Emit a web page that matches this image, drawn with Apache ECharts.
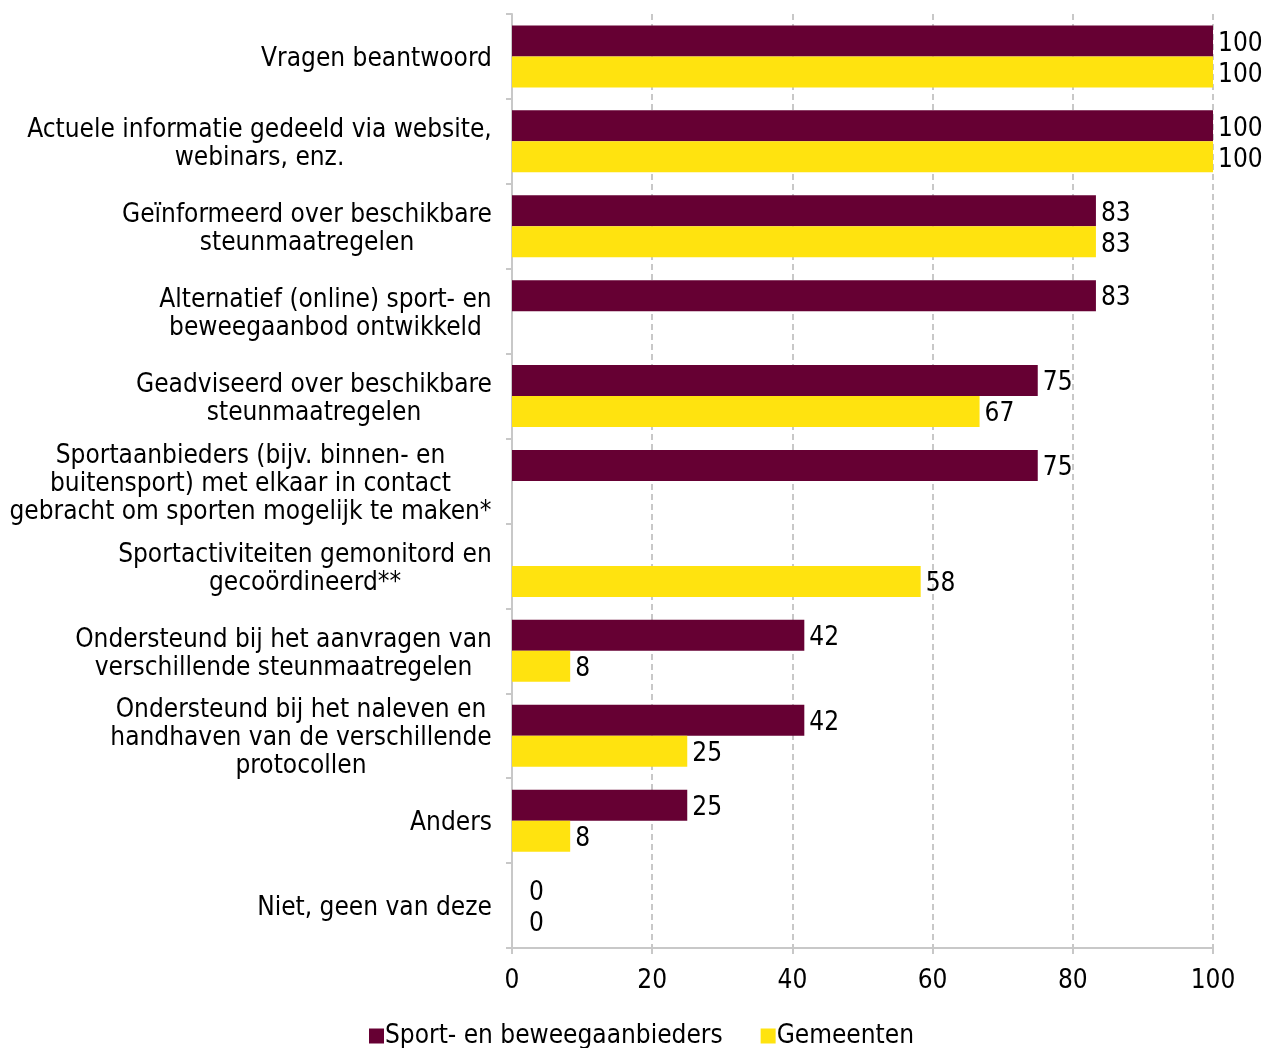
<!DOCTYPE html>
<html>
<head>
<meta charset="utf-8">
<script src="https://cdn.jsdelivr.net/npm/echarts@6/dist/echarts.min.js"></script>
<style>
  html, body { margin: 0; padding: 0; background: #fff; }
  #chart { width: 1266px; height: 1048px; }
</style>
</head>
<body>
<div id="chart"></div>
<script>
// categories, top to bottom
const categories = [
  'Vragen beantwoord',
  'Actuele informatie gedeeld via website,\nwebinars, enz.',
  'Geïnformeerd over beschikbare\nsteunmaatregelen',
  'Alternatief (online) sport- en\nbeweegaanbod ontwikkeld',
  'Geadviseerd over beschikbare\nsteunmaatregelen',
  'Sportaanbieders (bijv. binnen- en\nbuitensport) met elkaar in contact\ngebracht om sporten mogelijk te maken*',
  'Sportactiviteiten gemonitord en\ngecoördineerd**',
  'Ondersteund bij het aanvragen van\nverschillende steunmaatregelen',
  'Ondersteund bij het naleven en\nhandhaven van de verschillende\nprotocollen',
  'Anders',
  'Niet, geen van deze'
]
const sportValues = [100, 100, 83.3, 83.3, 75, 75, null, 41.7, 41.7, 25, 0]
const gemeentenValues = [100, 100, 83.3, null, 66.7, null, 58.3, 8.3, 25, 8.3, 0]
const seriesNames = ['Sport- en beweegaanbieders', 'Gemeenten']
const xTicks = [0, 20, 40, 60, 80, 100]

const FONT = 'DejaVu Sans Condensed'
const FS = 26
const colors = ['#660033', '#FFE30F']

// centre the lines of each wrapped label inside its own block
const ctx = document.createElement('canvas').getContext('2d')
ctx.font = FS + "px '" + FONT + "'"
const rich = {}
categories.forEach((c, i) => {
  const w = Math.max(...c.split('\n').map(l => ctx.measureText(l).width))
  rich['c' + i] = { width: Math.ceil(w), align: 'center', fontSize: FS, fontFamily: FONT, color: '#000', lineHeight: 28 }
})

function toData(values) {
  return values.map(v => {
    if (v === 0) return { value: 0, label: { distance: 17 } }
    return v
  })
}

const chart = echarts.init(document.getElementById('chart'))

const barLabel = {
  show: true,
  position: 'right',
  distance: 5,
  offset: [0, 3],
  fontFamily: FONT,
  fontSize: FS,
  color: '#000',
  formatter: p => Math.round(p.value)
}

chart.setOption({
  animation: false,
  textStyle: { fontFamily: FONT },
  grid: {
    left: 512,
    right: 53,
    top: 14,
    bottom: 100,
    containLabel: false
  },
  legend: {
    bottom: -6,
    left: 364,
    itemWidth: 15,
    itemHeight: 15,
    itemGap: 38,
    icon: 'rect',
    textStyle: { fontFamily: FONT, fontSize: FS, color: '#000', padding: [0, 0, 0, -4] },
    data: seriesNames
  },
  xAxis: {
    type: 'value',
    min: xTicks[0],
    max: xTicks[xTicks.length - 1],
    interval: 20,
    axisLine: { show: true, lineStyle: { color: '#c8c8c8', width: 2 } },
    axisTick: { show: true, length: 6, lineStyle: { color: '#c8c8c8', width: 2 } },
    axisLabel: { fontFamily: FONT, fontSize: FS, color: '#000', margin: 20 },
    splitLine: { show: true, lineStyle: { color: '#c8c8c8', type: [6, 4], width: 2 } }
  },
  yAxis: {
    type: 'category',
    inverse: true,
    data: categories,
    axisLine: { show: true, lineStyle: { color: '#c8c8c8', width: 2 } },
    axisTick: { show: true, length: 6, alignWithLabel: false, lineStyle: { color: '#c8c8c8', width: 2 } },
    axisLabel: {
      fontFamily: FONT,
      fontSize: FS,
      color: '#000',
      lineHeight: 28,
      margin: 20,
      align: 'right',
      padding: [6, 0, 0, 0],
      interval: 0,
      rich: rich,
      formatter: (value, idx) => value.split('\n').map(l => '{c' + idx + '|' + l + '}').join('\n')
    },
    splitLine: { show: false }
  },
  series: [
    {
      name: seriesNames[0],
      type: 'bar',
      data: toData(sportValues),
      barGap: '0%',
      barCategoryGap: '27%',
      itemStyle: { color: colors[0] },
      label: barLabel
    },
    {
      name: seriesNames[1],
      type: 'bar',
      data: toData(gemeentenValues),
      barGap: '0%',
      barCategoryGap: '27%',
      itemStyle: { color: colors[1] },
      label: barLabel
    }
  ]
})
</script>
</body>
</html>
